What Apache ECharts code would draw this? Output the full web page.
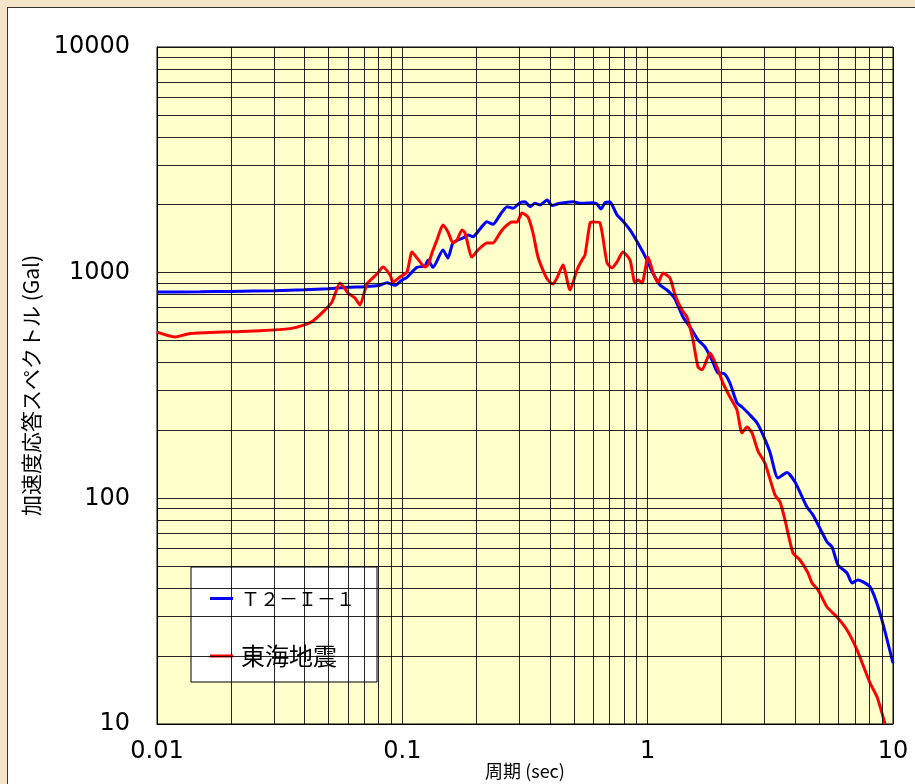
<!DOCTYPE html>
<html>
<head>
<meta charset="utf-8">
<script src="https://cdn.jsdelivr.net/npm/echarts@6/dist/echarts.min.js"></script>
<style>
  html, body { margin: 0; padding: 0; width: 915px; height: 784px; overflow: hidden; background: #f4e5c8; }
  #panel { position: absolute; left: 7px; top: 7px; width: 1000px; height: 1000px; background: #fff; border: 1.5px solid #333; }
  #chart { position: absolute; left: 0; top: 0; width: 915px; height: 784px; }
</style>
</head>
<body>
<div id="panel"></div>
<div id="chart"></div>
<script>
// T2-I-1 spectrum: period (sec) / acceleration (Gal)
const blueName = 'Ｔ２－Ｉ－１'
const bluePeriods = [0.01, 0.015, 0.02, 0.03, 0.04, 0.05, 0.06, 0.07, 0.08, 0.0866, 0.0933, 0.0997, 0.1045, 0.1148, 0.1237, 0.1273, 0.1334, 0.1464, 0.1535, 0.1609, 0.1767, 0.1852, 0.1941, 0.2073, 0.2213, 0.2342, 0.2501, 0.2671, 0.2825, 0.3017, 0.3162, 0.3314, 0.3473, 0.364, 0.3889, 0.4074, 0.4391, 0.4962, 0.53, 0.5989, 0.6217, 0.6454, 0.6702, 0.7022, 0.7224, 0.7499, 0.7858, 0.8472, 0.9134, 0.9938, 1.051, 1.123, 1.199, 1.257, 1.293, 1.393, 1.516, 1.604, 1.712, 1.829, 1.935, 2.047, 2.165, 2.312, 2.424, 2.613, 2.79, 2.951, 3.152, 3.398, 3.699, 3.986, 4.46, 4.72, 5.383, 5.642, 5.967, 6.494, 6.807, 7.2, 8.06, 8.851, 10]
const blueValues = [821, 823, 826, 832, 840, 849, 861, 867, 877, 903, 879, 928, 954, 1056, 1071, 1138, 1056, 1261, 1162, 1354, 1425, 1469, 1444, 1562, 1682, 1638, 1802, 1961, 1929, 2042, 2063, 1961, 2030, 1995, 2099, 1985, 2030, 2063, 2030, 2042, 2015, 1915, 2042, 2056, 1961, 1802, 1712, 1546, 1350, 1138, 994, 882, 838, 796, 764, 636, 557, 503, 469, 410, 359, 357, 324, 265, 254, 234, 216, 191, 160, 123, 130, 118, 91.5, 84.4, 64.1, 60.9, 50.7, 46.7, 42.2, 43.5, 40.5, 31.0, 18.6]

// 東海地震 spectrum
const redName = '東海地震'
const redPeriods = [0.01, 0.01184, 0.01363, 0.01984, 0.0263, 0.03484, 0.03936, 0.04324, 0.04749, 0.05168, 0.05571, 0.06003, 0.06413, 0.06721, 0.07178, 0.07883, 0.08342, 0.08907, 0.09162, 0.09784, 0.1045, 0.1095, 0.1148, 0.1237, 0.1273, 0.1321, 0.1384, 0.1464, 0.1535, 0.1609, 0.167, 0.1751, 0.1801, 0.1923, 0.2034, 0.2213, 0.2342, 0.2501, 0.262, 0.2799, 0.2934, 0.3074, 0.3252, 0.3409, 0.3573, 0.3815, 0.3925, 0.4113, 0.4269, 0.4517, 0.4825, 0.5152, 0.5399, 0.5554, 0.5821, 0.5989, 0.6393, 0.6829, 0.7154, 0.7499, 0.7934, 0.8472, 0.888, 0.9134, 0.9483, 1.003, 1.051, 1.102, 1.155, 1.233, 1.293, 1.38, 1.446, 1.53, 1.604, 1.665, 1.796, 1.917, 2.028, 2.165, 2.312, 2.424, 2.541, 2.663, 2.817, 3.008, 3.304, 3.463, 3.628, 3.912, 4.178, 4.504, 4.675, 4.947, 5.383, 5.911, 6.494, 7.133, 8.06, 8.607, 9.28]
const redValues = [545, 519, 537, 547, 553, 565, 584, 611, 670, 742, 900, 813, 772, 719, 891, 987, 1060, 977, 909, 957, 1007, 1235, 1162, 1060, 1081, 1223, 1395, 1627, 1514, 1354, 1395, 1546, 1499, 1173, 1261, 1354, 1354, 1499, 1594, 1677, 1677, 1839, 1765, 1499, 1173, 977, 928, 891, 947, 1081, 838, 1028, 1138, 1198, 1660, 1677, 1660, 1104, 1049, 1115, 1235, 1138, 900, 928, 900, 1173, 1007, 900, 997, 947, 796, 683, 636, 503, 382, 371, 441, 382, 324, 281, 246, 195, 207, 195, 162, 143, 103.5, 96.4, 80.2, 57.3, 53.3, 46.7, 42.2, 39.3, 33.0, 29.8, 26.1, 21.3, 15.2, 13.2, 10]

const xDecades = [0.01, 0.1, 1]
const yDecades = [10, 100, 1000]
const minorSteps = [2, 3, 4, 5, 6, 7, 8, 9]

const gridColor = 'rgba(0,0,0,0.85)'
const tickFont = 'DejaVu Sans'
const jpFont = '"Noto Sans CJK JP", sans-serif'

function minorLines(decades, key) {
  const out = []
  decades.forEach((d) => {
    minorSteps.forEach((m) => {
      out.push({ [key]: Number((d * m).toPrecision(3)) })
    })
  })
  return out
}

function fmt(v) {
  return String(Number(Number(v).toPrecision(6)))
}

const chart = echarts.init(document.getElementById('chart'), null, { renderer: 'canvas' })

chart.setOption({
  animation: false,
  backgroundColor: 'transparent',
  grid: {
    left: 157,
    right: 22,
    top: 47,
    bottom: 60,
    outerBoundsMode: 'none',
    containLabel: false,
    show: true,
    backgroundColor: '#ffffcc',
    borderColor: '#000',
    borderWidth: 1,
  },
  legend: {
    data: [blueName, redName],
    orient: 'vertical',
    left: 191,
    top: 567,
    backgroundColor: '#fff',
    borderColor: '#000',
    borderWidth: 1,
    padding: [22, 22, 14, 19],
    itemGap: 36,
    itemWidth: 23,
    itemHeight: 3,
    icon: 'rect',
    formatter: (name) => (name === blueName ? `{a|${name}}` : `{b|${name}}`),
    textStyle: {
      fontFamily: jpFont,
      color: '#000',
      padding: [0, 0, 0, 3],
      rich: {
        a: { fontFamily: jpFont, fontSize: 19, color: '#000', height: 27 },
        b: { fontFamily: jpFont, fontSize: 24, color: '#000', height: 27 },
      },
    },
  },
  xAxis: {
    type: 'log',
    logBase: 10,
    min: 0.01,
    max: 10,
    splitNumber: 3,
    name: '周期 (sec)',
    nameLocation: 'middle',
    nameGap: 38,
    nameMoveOverlap: false,
    nameTextStyle: { fontFamily: jpFont, fontSize: 18, color: '#000' },
    axisLine: { lineStyle: { color: '#000', width: 1 } },
    axisTick: { show: false },
    axisLabel: { fontFamily: tickFont, fontSize: 24, color: '#000', margin: 16, formatter: fmt },
    splitLine: { show: true, lineStyle: { color: gridColor, width: 1 } },
  },
  yAxis: {
    type: 'log',
    logBase: 10,
    min: 10,
    max: 10000,
    splitNumber: 3,
    name: '加速度応答スペクトル (Gal)',
    nameLocation: 'middle',
    nameRotate: 90,
    nameGap: 115,
    nameMoveOverlap: false,
    nameTextStyle: { fontFamily: jpFont, fontSize: 21, color: '#000' },
    axisLine: { lineStyle: { color: '#000', width: 1 } },
    axisTick: { show: false },
    axisLabel: { fontFamily: tickFont, fontSize: 24, color: '#000', margin: 27, formatter: fmt },
    splitLine: { show: true, lineStyle: { color: gridColor, width: 1 } },
  },
  series: [
    {
      name: 'gridlines',
      type: 'line',
      data: [[0.01, 10]],
      symbol: 'none',
      lineStyle: { opacity: 0 },
      silent: true,
      z: 1,
      markLine: {
        silent: true,
        symbol: ['none', 'none'],
        label: { show: false },
        lineStyle: { color: gridColor, width: 1, type: 'solid' },
        emphasis: { disabled: true },
        data: minorLines(xDecades, 'xAxis').concat(minorLines(yDecades, 'yAxis')),
      },
    },
    {
      name: blueName,
      type: 'line',
      data: bluePeriods.map((t, i) => [t, blueValues[i]]),
      symbol: 'none',
      smooth: 0.2,
      lineStyle: { color: '#0000ff', width: 3 },
      itemStyle: { color: '#0000ff' },
      z: 3,
    },
    {
      name: redName,
      type: 'line',
      data: redPeriods.map((t, i) => [t, redValues[i]]),
      symbol: 'none',
      smooth: 0.2,
      lineStyle: { color: '#ff0000', width: 3 },
      itemStyle: { color: '#ff0000' },
      z: 4,
    },
  ],
})
</script>
</body>
</html>
